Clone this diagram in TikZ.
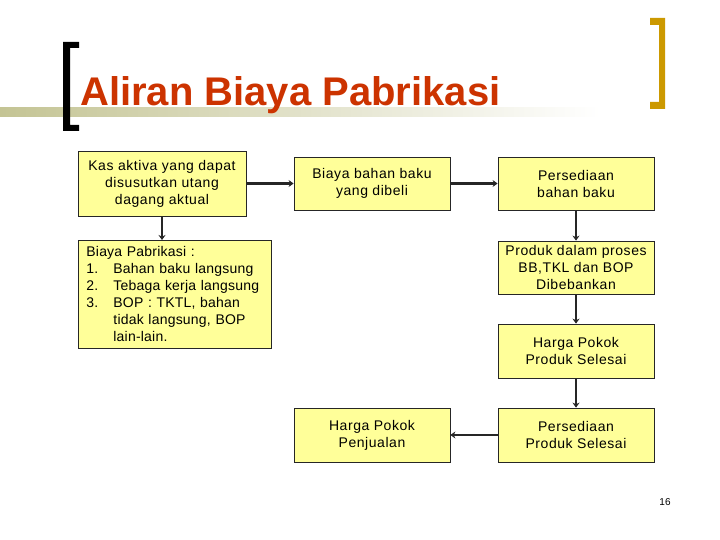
\documentclass[tikz,border=0pt]{standalone}
\usepackage{fontspec}
\setmainfont{Liberation Sans}
\newfontfamily\boxfont{Liberation Sans}[LetterSpace=4]
\newfontfamily\listfont{Liberation Sans}[LetterSpace=1.5]
\usetikzlibrary{arrows.meta}
\usetikzlibrary{backgrounds}

\definecolor{titlered}{RGB}{204,51,0}
\definecolor{boxyellow}{RGB}{255,255,153}
\definecolor{barolive}{RGB}{196,196,148}
\definecolor{bracketgold}{RGB}{204,153,0}
\definecolor{arrowgray}{RGB}{38,38,38}

\newcommand{\listrow}[2]{\mbox{\makebox[27pt][l]{#1}#2}}

\begin{document}
\begin{tikzpicture}[->,>={Stealth[length=5pt,width=7pt]},x=1pt, y=-1pt, background rectangle/.style={fill=white}, show background rectangle, inner frame sep=0pt]
\tikzset{box/.style={draw=black!85,line width=0.8pt,fill=boxyellow,minimum width=156pt,minimum height=53pt,inner sep=0pt,align=center,font=\boxfont\fontsize{14}{17}\selectfont}}
\tikzset{flow/.style={line width=2.3pt,draw=arrowgray}}

\useasboundingbox (0,0) rectangle (720,540);

% title with bar and brackets
\shade[-,left color=barolive,right color=white] (0,108) rectangle (600,117);
\fill[-,black] (63,42) -- (79,42) -- (79,48) -- (70,48) -- (70,125) -- (79,125) -- (79,131) -- (63,131) -- cycle;
\fill[-,bracketgold] (665,18) -- (650,18) -- (650,25) -- (659,25) -- (659,102) -- (650,102) -- (650,109) -- (665,109) -- cycle;
\node[anchor=base west,inner sep=0pt,text=titlered,font=\fontsize{40}{48}\selectfont\bfseries] (title) at (80,106) {Aliran Biaya Pabrikasi};

% boxes
\node[box,minimum width=168pt,minimum height=65pt] (kas) at (162,183.5) {Kas aktiva yang dapat\\disusutkan utang\\dagang aktual};
\node[box] (beli) at (372,183.5) {Biaya bahan baku\\yang dibeli};
\node[box] (persbb) at (576,183.5) {Persediaan\\bahan baku};
\node[box,anchor=north west,minimum height=108pt,text width=177pt,inner xsep=8pt,align=left,font=\listfont\fontsize{14}{17}\selectfont] (pabrik) at (78,240) {Biaya Pabrikasi :\\
\listrow{1.}{Bahan baku langsung}\\
\listrow{2.}{Tebaga kerja langsung}\\
\listrow{3.}{BOP : TKTL, bahan}\\
\listrow{}{tidak langsung, BOP}\\
\listrow{}{lain-lain.}};
\node[box] (proses) at (576,267.5) {Produk dalam proses\\BB,TKL dan BOP\\Dibebankan};
\node[box,minimum height=54pt] (hpps) at (576,351) {Harga Pokok\\Produk Selesai};
\node[box,minimum height=54pt] (persps) at (576,435) {Persediaan\\Produk Selesai};
\node[box,minimum height=54pt] (hpp) at (372,435) {Harga Pokok\\Penjualan};

% arrows
\draw[flow] (kas) -- (beli);
\draw[flow] (beli) -- (persbb);
\draw[flow] (kas.south) -- (kas.south |- pabrik.north);
\draw[flow] (persbb) -- (proses);
\draw[flow] (proses) -- (hpps);
\draw[flow] (hpps) -- (persps);
\draw[flow] (persps) -- (hpp);

\node[font=\fontsize{10}{12}\selectfont] (page) at (665,502) {16};
\end{tikzpicture}
\end{document}
